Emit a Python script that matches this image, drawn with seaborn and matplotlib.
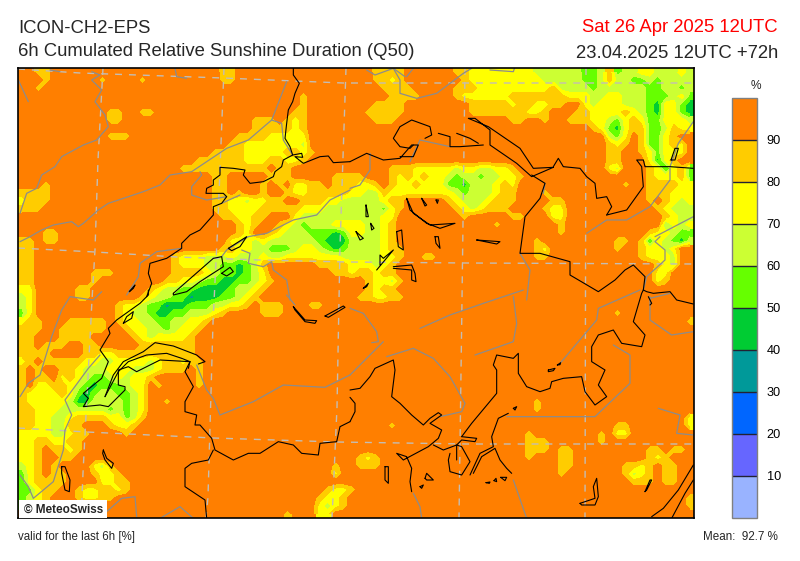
"""ICON-CH2-EPS relative sunshine duration map, redrawn as a seaborn heatmap."""
import matplotlib
matplotlib.use("Agg")
import matplotlib.pyplot as plt
from matplotlib.colors import ListedColormap
from matplotlib.patches import Rectangle
import numpy as np
import seaborn as sns

LEVEL_COLORS = ["#99B3FF", "#6666FF", "#0066FF", "#009999", "#00CC33",
                "#66FF00", "#CCFF33", "#FFFF00", "#FFCC00", "#FF7F00"]
CBAR_TICKS = [10, 20, 30, 40, 50, 60, 70, 80, 90]

# One digit per cell: the decade of the sunshine percentage (9 = 90-100 %).
SUNSHINE_ROWS = [
    "9988999999 9999999999 9999988999 9999999999 9999888899 9999887777 7777666666 5568566776 6676",
    "9998999999 8999989999 9999988999 9999999999 9999887899 9999987777 7777766666 5568665565 6666",
    "9989999999 9999999999 9999999999 9999999999 9999988889 9999888777 7777778666 6566666655 6656",
    "9999999999 9999999999 9999999999 9999989999 9999998888 9999877777 7888888877 7667766655 5675",
    "9999999999 9999999999 9999999999 9999989999 9999888899 9999998888 8788778899 7677766654 7754",
    "9999999999 9889988999 9999999999 9999889999 9998888899 9999998888 8887789998 8777787654 7754",
    "9999999999 9889999999 9999999998 8898789999 9999888999 9999999999 9889989988 8776578755 7776",
    "9999999999 9999999999 9999999998 8888789999 9999999999 9999999999 9999999999 9875478855 6877",
    "9999999999 9888999999 9999999888 8777779999 9999999999 9999999999 9999999999 9996579855 7899",
    "9999999999 9999999999 9999998877 7777769999 9999999999 9999999999 9999999999 9998789855 7879",
    "9999999999 9999999999 9999888877 7778878999 9999999999 9999999999 9999999999 9998899875 7779",
    "9999999999 9999999999 9988888877 7887789999 9999999999 9999999999 9999999999 9998899974 7899",
    "9999999999 9999999999 8888888888 8988999999 9999998887 7777677667 7899999999 9997699987 4785",
    "9999999999 9999999999 9999889999 9888999998 8889998787 8776566566 7789999999 9999999987 7785",
    "9998999999 9999999999 9999889999 8989778898 8877898778 7775546667 8799999999 9999989988 8877",
    "8888999999 9999999999 9999889899 8998778888 8776687777 7777656667 8899989999 9999999988 8777",
    "7888999999 9999999999 9999887767 7889988877 6666678899 9998766678 8899998899 9999999989 8767",
    "8889999999 9999999999 9999887777 8888877766 6666657899 9999876788 8999987799 9999999998 7666",
    "9999999999 9999999999 9999988778 8999766666 6666677999 9999989999 9889997799 9999999999 8766",
    "9999999999 9999999999 9999999878 9987656667 7776678999 9999999998 9999999899 9999999999 5767",
    "9998899999 9999999999 9999999879 9876665554 5776678999 9999999999 9999999899 9999999987 7655",
    "8898899999 9999999999 9999997776 7666666544 4666678999 9999999999 9999899999 9999889847 6546",
    "8899999999 9999999999 9999988776 6555677654 5666678899 9999999999 9999879999 9999899877 6799",
    "8899999999 9999999998 7776667666 7667777777 6666677899 8899999999 9999889999 9999999877 7699",
    "8899999999 9999999998 7776655456 8999999888 8777678999 9999999999 9999999999 9999999998 7699",
    "8899999998 8899999998 8887655456 7999999998 8788788999 9999999999 9999999999 9999999997 7999",
    "8899999998 9999999988 7765544556 7899999999 9998776899 9999999999 9999999999 9999999997 8999",
    "7799999889 9999998766 5544445667 8999999999 9998788999 9999999999 9999999999 9999999999 9999",
    "6799999889 9999987665 5344455678 9999999999 9988778899 9999999999 9999999999 9999999999 9999",
    "6799999999 9987765534 4555667789 8889998899 9999999999 9999999999 9999999999 9999999999 9999",
    "5799999999 9987665445 5666789999 8889999999 9999999999 9999999999 9999999999 9999899999 9999",
    "7889998888 8987766556 6778999999 9999999999 9999999999 9999999999 9999999999 9999999999 9998",
    "8889988888 8998776656 7789999999 9999999999 9999999999 9999999999 9999999999 9999999999 9999",
    "8899988889 9999876777 7899999999 9999999999 9999999999 9999999999 9999999999 9999999999 9999",
    "8898889988 9999988888 8899999999 9999999999 9999999999 9999999999 9999999999 9999999999 9999",
    "8888999988 7788888888 8899999999 9999999999 9999999999 9999999999 9999999999 9999999999 9999",
    "7898888877 6677776788 7889999999 9999999999 9999999999 9999999999 9999999999 9999999999 9999",
    "8989988766 6777666788 8989999999 9999999999 9999999999 9999999999 9999999999 9999999999 9999",
    "8988978765 5676778999 9989999999 9999999999 9999999999 9999999999 9999999999 9999999999 9999",
    "8977887654 5556779899 9989999999 9999999999 9999999999 9999999999 9999999999 9999999999 9999",
    "8777787545 6655679999 9999999999 9999999999 9999999999 9999999999 9999999999 9999999999 9999",
    "8777776446 6665679989 9999999999 9999999999 9999999999 9999999999 9999899999 9999999999 9999",
    "8877766666 6565679999 9999999999 9999999999 9999999999 9999999999 9999899999 9999999999 9999",
    "8877667888 8775689999 9999999999 9999999999 9999999999 9999999999 9999999999 9999999999 9997",
    "8877668899 9877899999 9999999999 9999999999 9999998999 9999999999 9999999999 9999889999 9997",
    "7777667889 9998999999 9999999999 9999999999 9999999999 9999999999 9998999999 9989779999 9999",
    "7788778899 9999999999 9999999999 9999999999 9999999999 9999999999 9998889999 9989999999 9999",
    "7789887899 9999999999 9999999999 9999999999 9999999999 9999999999 9998889889 9999999988 9889",
    "7789988999 9999999999 9999999999 9999999999 9987899999 9999999999 9998999889 9999999987 8999",
    "6789899997 6899999999 9999999999 9999999998 9988899999 9999999999 9999999889 9999988789 8899",
    "5789889998 7789999999 9999999999 9999999997 9999999999 9999999999 9999999899 9999986789 8899",
    "5788889999 7788999999 9999999999 9999999999 9999999999 9999999999 9999999999 9999998889 8899",
    "5578899877 8878999999 9999999999 9999999987 7899999999 9999999999 9999999999 9999999999 9999",
    "5678999877 8899999999 9999999999 9999999877 8999999999 9999999999 9999999999 9999999999 9998",
    "5678999999 9999999999 9999999999 9999999767 8999999999 9999999999 9999999999 9999999999 9998",
    "9999999999 9999999999 9999999999 9998999779 9999999999 9999999999 9999999999 9999999999 9999",
]

# Map outlines in 3x crop coordinates of four quadrants.
NW, NE, SW, SE = (0, 60), (350, 60), (0, 290), (350, 290)

GRATICULE = [
    [(103, 68), (98, 160), (95, 250), (92, 300), (83, 473), (81, 518)],
    [(224, 68), (218, 220), (213, 323), (208, 497), (206, 518)],
    [(346, 68), (340, 247), (337, 407), (333, 497), (332, 518)],
    [(465, 68), (462, 300), (459, 518)],
    [(586, 68), (585, 518)],
    [(18, 69), (80, 73), (223, 78), (343, 83), (467, 83), (694, 83)],
    [(18, 248), (95, 252), (177, 257), (260, 260), (347, 262), (467, 263), (694, 264)],
    [(18, 428), (87, 432), (213, 438), (337, 442), (467, 444), (694, 444)],
]

RIVERS = [
    (NW, [(860, 65), (815, 180), (745, 240), (680, 265), (575, 335), (510, 345), (480, 375), (430, 395), (325, 430), (295, 450), (250, 490), (235, 500), (215, 485), (160, 495), (125, 510), (90, 530), (60, 545)]),
    (NW, [(815, 180), (845, 190), (850, 240), (878, 285)]),
    (NW, [(55, 60), (85, 125)]),
    (NW, [(275, 35), (300, 45), (275, 60), (305, 90), (285, 125), (315, 165), (325, 200), (290, 240), (250, 255), (185, 290), (165, 320), (125, 345), (110, 385), (80, 400), (60, 460)]),
    (NW, [(525, 25), (530, 50), (560, 55)]),
    (NW, [(150, 30), (180, 35)]),
    (NW, [(600, 335), (605, 345), (575, 380), (575, 405), (620, 420), (680, 410)]),
    (NW, [(665, 430), (720, 405)]),
    (NW, [(545, 565), (470, 575), (420, 610), (415, 650), (380, 705)]),
    (NW, [(725, 570), (750, 580), (745, 610), (790, 620), (815, 605), (820, 630), (860, 660), (870, 720)]),
    (NW, [(665, 590), (680, 570), (745, 530), (800, 520), (880, 480), (950, 465), (990, 420), (1050, 390)]),
    (NE, [(0, 385), (30, 375), (60, 330), (60, 280)]),
    (NE, [(50, 30), (75, 45), (130, 25), (150, 60), (150, 100), (200, 115), (260, 100), (340, 40), (365, 25)]),
    (NE, [(420, 30), (490, 35), (495, 20)]),
    (NE, [(130, 25), (165, 50)]),
    (NE, [(190, 25), (170, 50)]),
    (NE, [(180, 305), (210, 240), (300, 260)]),
    (NE, [(585, 370), (580, 400)]),
    (NE, [(710, 520), (770, 480), (830, 480), (900, 440), (960, 360), (960, 325)]),
    (NE, [(930, 530), (915, 545), (945, 570), (945, 600), (890, 650), (880, 690)]),
    (NE, [(915, 530), (1030, 470)]),
    (NE, [(960, 320), (985, 250), (1030, 185)]),
    (NE, [(510, 580), (540, 630), (530, 720)]),
    (SW, [(60, 320), (85, 280), (120, 255), (155, 140), (185, 60), (210, 20), (280, 30), (305, 5)]),
    (SW, [(300, 195), (265, 235), (195, 330), (215, 375), (195, 420), (190, 480), (160, 575), (100, 625), (85, 590), (60, 555)]),
    (SW, [(590, 225), (620, 300), (640, 325), (660, 375), (760, 335), (850, 285), (975, 292), (1050, 255)]),
    (SW, [(860, 15), (885, 45)]),
    (SW, [(320, 665), (365, 625), (405, 620), (410, 680)]),
    (SW, [(480, 685), (540, 650), (580, 685)]),
    (SE, [(0, 55), (40, 70), (80, 125), (85, 155), (65, 158)]),
    (SE, [(100, 155), (0, 255)]),
    (SE, [(110, 200), (190, 175), (250, 205), (300, 260), (345, 340), (335, 365), (270, 380)]),
    (SE, [(210, 115), (300, 75), (400, 40), (520, 0)]),
    (SE, [(490, 20), (500, 100), (490, 155), (375, 195)]),
    (SE, [(630, 220), (740, 90), (745, 55), (870, 0)]),
    (SE, [(900, 20), (900, 90), (965, 135), (1030, 125)]),
    (SE, [(900, 25), (960, 10)]),
    (SE, [(790, 165), (840, 195), (840, 280), (735, 380), (470, 380)]),
    (SE, [(925, 355), (990, 375), (980, 430), (1030, 435)]),
    (SE, [(190, 610), (210, 650), (215, 685)]),
    (SE, [(490, 570), (530, 685)]),
]

BORDERS = [
    (NW, [(880, 20), (880, 45), (898, 70), (885, 100), (878, 125), (865, 150), (860, 190), (855, 235), (870, 260), (878, 285), (905, 280), (908, 292), (885, 290), (910, 310), (960, 290), (985, 288), (1000, 308), (1050, 305)]),
    (NW, [(878, 285), (850, 300), (845, 320), (825, 335), (820, 350), (790, 365), (750, 370), (730, 345), (735, 330), (700, 325), (660, 322), (660, 345), (640, 360), (640, 375), (620, 385), (618, 400), (670, 400), (680, 410), (665, 430), (640, 440), (640, 465), (600, 510), (570, 525), (545, 550), (545, 565), (500, 595), (450, 610), (445, 640), (455, 670), (440, 710)]),
    (SW, [(445, 0), (445, 15), (420, 40), (350, 90), (325, 115), (330, 130), (300, 180), (325, 215), (305, 265), (250, 310), (265, 325), (250, 350), (300, 345), (325, 350), (375, 300), (375, 290), (355, 285), (355, 240), (385, 230), (410, 245), (450, 225), (480, 210), (570, 215)]),
    (SW, [(570, 215), (555, 245), (580, 290), (555, 335), (555, 365), (590, 375), (585, 405), (600, 405), (635, 445), (645, 480), (700, 510), (745, 490), (780, 490), (835, 455), (880, 465), (905, 490), (955, 495), (960, 460), (1010, 455), (1020, 410), (1050, 395)]),
    (SW, [(640, 480), (625, 510), (575, 520), (555, 535), (555, 590), (615, 630), (620, 685)]),
    (SE, [(0, 395), (15, 365), (15, 340), (0, 322)]),
    (SE, [(0, 300), (30, 295), (60, 260), (75, 235), (130, 210), (135, 240), (125, 320), (150, 340), (185, 375), (220, 405), (240, 385), (265, 368), (275, 375), (240, 400), (275, 420), (265, 445), (235, 470), (160, 510), (140, 490), (170, 500), (185, 535), (180, 575), (185, 605)]),
    (SE, [(335, 440), (365, 400), (440, 310), (440, 240), (430, 225), (440, 195), (490, 205), (505, 190), (505, 250), (530, 290), (570, 305), (600, 295), (605, 275), (640, 265), (695, 260), (705, 305), (735, 345), (770, 320), (745, 285), (765, 240), (725, 215), (725, 170), (745, 135), (790, 120), (815, 160), (875, 170), (885, 135), (850, 95), (875, 10), (880, 0)]),
    (NE, [(880, 690), (885, 650), (850, 615), (825, 630), (795, 660), (745, 695), (660, 645), (660, 605), (570, 580), (510, 580), (525, 470), (570, 415), (585, 370), (545, 345)]),
    (NE, [(770, 465), (830, 450), (880, 380), (875, 320), (860, 300), (880, 300), (885, 320), (960, 320), (1030, 325)]),
    (NE, [(770, 465), (785, 440), (770, 410), (740, 415), (735, 370), (710, 350), (690, 325), (640, 320), (625, 295), (610, 320)]),
    (NE, [(610, 322), (550, 325), (510, 265), (415, 200), (355, 175), (375, 175), (420, 210), (420, 255), (500, 310), (545, 350), (610, 322)]),
    (NE, [(0, 305), (50, 280), (100, 300), (150, 295), (185, 255), (205, 255), (190, 290), (150, 290)]),
    (NE, [(190, 255), (180, 265), (150, 260), (130, 235), (150, 200), (185, 180), (240, 200), (245, 225), (225, 235)]),
    (NE, [(265, 220), (300, 230), (300, 260), (330, 260), (400, 255)]),
    (NE, [(320, 220), (360, 235), (385, 250)]),
    (NE, [(963, 300), (975, 265), (985, 265), (975, 300), (963, 300)]),
    (SE, [(880, 0), (890, 5), (910, 10), (960, 5), (980, 30), (1030, 42)]),
    (SE, [(895, 20), (905, 40), (900, 45)]),
    (SE, [(360, 555), (390, 490), (430, 470), (425, 440), (445, 385), (475, 370)]),
    (SE, [(370, 550), (395, 500), (435, 475), (450, 510), (470, 535), (485, 550)]),
    (SE, [(335, 440), (380, 445), (375, 455), (335, 450), (320, 465), (280, 480), (250, 465)]),
    (SE, [(300, 490), (295, 510), (300, 545), (335, 555), (360, 515), (335, 470), (320, 465), (320, 510)]),
    (SE, [(905, 680), (940, 655), (985, 600), (1030, 525)]),
    (SE, [(965, 685), (1005, 610), (1030, 570)]),
]

LAKES = [
    (NW, [(520, 700), (560, 665), (640, 595), (665, 590), (670, 620), (600, 665), (560, 695), (520, 705), (520, 700)]),
    (NW, [(685, 565), (740, 530), (720, 560), (695, 572), (685, 565)]),
    (NW, [(665, 640), (690, 622), (700, 635), (680, 648), (665, 640)]),
    (NW, [(388, 695), (405, 675), (400, 685), (388, 695)]),
    (SW, [(315, 320), (340, 255), (370, 215), (430, 185), (465, 158), (520, 168), (590, 195), (615, 215), (595, 222)]),
    (SW, [(315, 320), (355, 245), (385, 215), (440, 195), (500, 190), (545, 205), (570, 215), (565, 235)]),
    (SW, [(370, 100), (380, 80), (400, 65), (395, 85), (370, 100)]),
    (SW, [(310, 480), (320, 505), (340, 520), (335, 535), (315, 510), (308, 490), (310, 480)]),
    (SW, [(185, 530), (195, 530), (210, 570), (208, 605), (195, 600), (185, 550), (185, 530)]),
    (SW, [(880, 50), (915, 90), (950, 92), (945, 100), (915, 95), (885, 60), (880, 50)]),
    (SW, [(975, 78), (1030, 48), (1035, 52), (985, 82), (975, 78)]),
    (NE, [(170, 415), (190, 460), (240, 495), (315, 490), (270, 505), (230, 490), (180, 450), (170, 415)]),
    (NE, [(215, 415), (230, 435), (225, 438), (215, 415)]),
    (NE, [(258, 420), (265, 420), (262, 430), (258, 420)]),
    (NE, [(140, 515), (155, 510), (160, 570), (145, 560), (140, 515)]),
    (NE, [(18, 515), (40, 535), (30, 540), (18, 515)]),
    (NE, [(48, 435), (55, 470), (48, 470), (48, 435)]),
    (NE, [(62, 490), (72, 505), (65, 510), (62, 490)]),
    (NE, [(380, 540), (450, 545), (440, 552), (380, 540)]),
    (NE, [(255, 530), (265, 530), (270, 565), (258, 550), (255, 530)]),
    (NE, [(80, 630), (130, 570), (100, 595), (90, 585), (90, 615)]),
    (NE, [(130, 620), (185, 615), (195, 640), (198, 665), (185, 660), (185, 630), (130, 625)]),
    (NE, [(40, 685), (55, 670), (50, 680), (40, 685)]),
    (SE, [(105, 530), (115, 530), (115, 580), (105, 570), (105, 530)]),
    (SE, [(595, 240), (615, 235), (610, 242), (595, 245), (595, 240)]),
    (SE, [(622, 225), (632, 218), (630, 224), (622, 225)]),
    (SE, [(490, 355), (500, 350), (495, 360), (490, 355)]),
    (SE, [(225, 565), (230, 550), (240, 560), (250, 570), (230, 570), (225, 565)]),
    (SE, [(210, 590), (220, 585), (215, 595), (210, 590)]),
    (SE, [(408, 578), (420, 576), (418, 580), (408, 578)]),
    (SE, [(432, 572), (438, 565), (440, 575), (432, 572)]),
    (SE, [(452, 562), (470, 562), (465, 572), (452, 562)]),
    (SE, [(690, 640), (735, 625), (730, 590), (740, 565), (745, 620), (735, 645), (695, 645), (690, 640)]),
    (SE, [(885, 605), (900, 570), (905, 570), (890, 600), (885, 605)]),
]

MAP_LEFT, MAP_TOP, MAP_W, MAP_H = 18, 68, 676, 450
CB_LEFT, CB_TOP, CB_W, CB_H = 732, 98, 25, 420

grid = np.array([[int(c) * 10 + 5 for c in row.replace(" ", "")] for row in SUNSHINE_ROWS])
n_rows, n_cols = grid.shape


def to_cells(points, origin=(0, 0), zoom=1.0):
    """Picture pixels (or crop coordinates) to heatmap cell coordinates."""
    pts = np.array(points, dtype=float) / zoom + origin
    return (pts[:, 0] - MAP_LEFT) * n_cols / MAP_W, (pts[:, 1] - MAP_TOP) * n_rows / MAP_H


sns.set_theme(style="white")
plt.rcParams["font.family"] = ["Liberation Sans", "DejaVu Sans"]

W, H = 800, 561
fig = plt.figure(figsize=(W / 100, H / 100), dpi=100)
ax = fig.add_axes([MAP_LEFT / W, 1 - (MAP_TOP + MAP_H) / H, MAP_W / W, MAP_H / H])
cax = fig.add_axes([CB_LEFT / W, 1 - (CB_TOP + CB_H) / H, CB_W / W, CB_H / H])

cmap = ListedColormap(LEVEL_COLORS)
sns.heatmap(grid, ax=ax, cbar_ax=cax, cmap=cmap, vmin=0, vmax=100,
            xticklabels=False, yticklabels=False,
            cbar_kws={"ticks": CBAR_TICKS, "drawedges": True})
# same cells again as filled decade contours, so the patches have contour-like edges
ax.contourf(np.arange(n_cols) + 0.5, np.arange(n_rows) + 0.5, grid,
            levels=np.arange(0, 101, 10), cmap=cmap, vmin=0, vmax=100)

for line in GRATICULE:
    xs, ys = to_cells(line)
    ax.plot(xs, ys, color="#C4BDB4", lw=1.0, dashes=(5, 5))
for origin, line in RIVERS:
    xs, ys = to_cells(line, origin, 3)
    ax.plot(xs, ys, color="#8C8C8C", lw=0.9)
for origin, line in BORDERS + LAKES:
    xs, ys = to_cells(line, origin, 3)
    ax.plot(xs, ys, color="black", lw=0.8)

ax.set_xlim(0, n_cols)
ax.set_ylim(n_rows, 0)
for spine in ax.spines.values():
    spine.set_visible(True)
    spine.set_color("black")
    spine.set_linewidth(1.2)

cbar = ax.collections[0].colorbar
cbar.outline.set_edgecolor("#808080")
cbar.outline.set_linewidth(1.0)
cbar.dividers.set_color("#223")
cbar.dividers.set_linewidth(1.0)
cax.tick_params(length=0, labelsize=9.2, pad=7, colors="black")

box_x, box_y = to_cells([(19, 500)])
box_w, box_h = to_cells([(107, 518)])
ax.add_patch(Rectangle((box_x[0], box_y[0]), box_w[0] - box_x[0], box_h[0] - box_y[0],
                       facecolor="white", edgecolor="none", zorder=5))
fig.text(24 / W, 1 - 513 / H, "© MeteoSwiss", fontsize=8.5, fontweight="bold", ha="left", va="baseline", zorder=6)

fig.text(18 / W, 1 - 32.7 / H, "ICON-CH2-EPS", fontsize=13.3, ha="left", va="baseline")
fig.text(18 / W, 1 - 55.7 / H, "6h Cumulated Relative Sunshine Duration (Q50)", fontsize=13.3, ha="left", va="baseline")
fig.text(778 / W, 1 - 32 / H, "Sat 26 Apr 2025 12UTC", fontsize=13.3, color="red", ha="right", va="baseline")
fig.text(778 / W, 1 - 58 / H, "23.04.2025 12UTC +72h", fontsize=13.3, ha="right", va="baseline")
fig.text(756 / W, 1 - 89 / H, "%", fontsize=8.6, ha="center", va="baseline")
fig.text(18 / W, 1 - 540 / H, "valid for the last 6h [%]", fontsize=8.3, ha="left", va="baseline")
fig.text(778 / W, 1 - 540 / H, "Mean:  92.7 %", fontsize=8.4, ha="right", va="baseline")

fig.savefig("out.png", dpi=100)
plt.close(fig)
